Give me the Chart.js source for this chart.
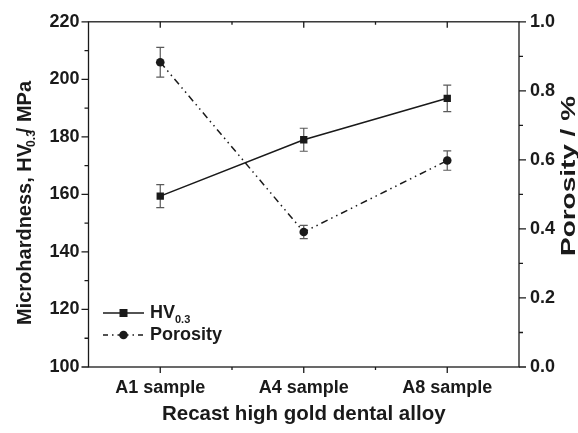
<!DOCTYPE html>
<html><head><meta charset="utf-8">
<script src="https://cdn.jsdelivr.net/npm/chart.js@4/dist/chart.umd.min.js"></script>
<style>html,body{margin:0;padding:0;background:#fff}canvas{display:block}</style>
</head><body>
<canvas id="c" width="578" height="433"></canvas>
<script>
const categories = ['A1 sample', 'A4 sample', 'A8 sample'];
const hardness = [159.4, 179.0, 193.4];
const hardnessErr = [4.0, 4.0, 4.6];
const porosity = [0.883, 0.391, 0.598];
const porosityErr = [0.043, 0.019, 0.028];
const hardnessTicks = [100, 120, 140, 160, 180, 200, 220];
const porosityTicks = [0.0, 0.2, 0.4, 0.6, 0.8, 1.0];

const FONT = "'Liberation Sans', Arial, sans-serif";
const INK = '#1a1a1a';

const errorBars = {
  id: 'errorBars',
  beforeDatasetsDraw(chart) {
    const ctx = chart.ctx;
    const x = chart.scales.x;
    const sets = [[hardness, hardnessErr, chart.scales.y], [porosity, porosityErr, chart.scales.y1]];
    ctx.save();
    ctx.strokeStyle = '#5a5a5a';
    ctx.lineWidth = 1.2;
    sets.forEach(([vals, errs, ys]) => {
      vals.forEach((v, i) => {
        const px = x.getPixelForValue(i);
        const top = ys.getPixelForValue(v + errs[i]);
        const bot = ys.getPixelForValue(v - errs[i]);
        ctx.beginPath();
        ctx.moveTo(px, top); ctx.lineTo(px, bot);
        ctx.moveTo(px - 4, top); ctx.lineTo(px + 4, top);
        ctx.moveTo(px - 4, bot); ctx.lineTo(px + 4, bot);
        ctx.stroke();
      });
    });
    ctx.restore();
  }
};

const frame = {
  id: 'frame',
  afterDraw(chart) {
    const ctx = chart.ctx;
    const a = chart.chartArea;
    const x = chart.scales.x, y = chart.scales.y, y1 = chart.scales.y1;
    ctx.save();
    ctx.strokeStyle = INK;
    ctx.lineWidth = 1.3;
    ctx.strokeRect(a.left, a.top, a.right - a.left, a.bottom - a.top);
    ctx.beginPath();
    for (let v = 100; v <= 220; v += 10) {
      const py = y.getPixelForValue(v);
      const len = (v % 20 === 0) ? 7 : 4;
      ctx.moveTo(a.left - len, py); ctx.lineTo(a.left, py);
    }
    for (let k = 0; k <= 10; k++) {
      const py = y1.getPixelForValue(k / 10);
      const len = (k % 2 === 0) ? 7 : 4;
      ctx.moveTo(a.right, py); ctx.lineTo(a.right + len, py);
    }
    for (let k = 0; k < categories.length; k++) {
      const px = x.getPixelForValue(k);
      ctx.moveTo(px, a.bottom); ctx.lineTo(px, a.bottom + 6);
      ctx.moveTo(px, a.top); ctx.lineTo(px, a.top + 6);
      if (k < categories.length - 1) {
        const mx = (px + x.getPixelForValue(k + 1)) / 2;
        ctx.moveTo(mx, a.bottom); ctx.lineTo(mx, a.bottom + 3);
        ctx.moveTo(mx, a.top); ctx.lineTo(mx, a.top + 3);
      }
    }
    ctx.stroke();

    ctx.fillStyle = INK;
    ctx.textBaseline = 'middle';
    ctx.textAlign = 'left';
    const tf = 'bold 20px ' + FONT;
    const sf = 'bold 12px ' + FONT;
    ctx.font = tf;
    const p1 = 'Microhardness, HV', p3 = '/ MPa';
    ctx.font = sf; const w2 = ctx.measureText('0.3').width;
    ctx.font = tf;
    const w1 = ctx.measureText(p1).width, w3 = ctx.measureText(p3).width;
    const total = w1 + w2 - 6 + w3;
    ctx.save();
    ctx.translate(25, 203);
    ctx.rotate(-Math.PI / 2);
    let sx = -total / 2;
    ctx.fillText(p1, sx, 0); sx += w1;
    ctx.font = sf; ctx.fillText('0.3', sx - 3, 7); sx += w2 - 6;
    ctx.font = tf; ctx.fillText(p3, sx, 0);
    ctx.restore();

    // right title, reading bottom-to-top, stretched along its length as in the reference
    ctx.save();
    ctx.translate(569, 176);
    ctx.rotate(-Math.PI / 2);
    ctx.font = 'bold 20.5px ' + FONT;
    const rt = 'Porosity / %';
    const rw = ctx.measureText(rt).width;
    ctx.scale(160 / rw, 1);
    ctx.textAlign = 'center';
    ctx.fillText(rt, 0, 0);
    ctx.restore();

    // legend
    const lx0 = 103, lx1 = 144, mx = 123.5;
    const rows = [313, 335];
    ctx.lineWidth = 1.5;
    ctx.beginPath();
    ctx.moveTo(lx0, rows[0]); ctx.lineTo(lx1, rows[0]);
    ctx.stroke();
    ctx.fillRect(mx - 4, rows[0] - 4, 8, 8);
    ctx.setLineDash([5, 4, 1.5, 4]);
    ctx.beginPath();
    ctx.moveTo(lx0, rows[1]); ctx.lineTo(mx, rows[1]);
    ctx.stroke();
    ctx.beginPath();
    ctx.moveTo(mx, rows[1]); ctx.lineTo(lx1, rows[1]);
    ctx.stroke();
    ctx.setLineDash([]);
    ctx.beginPath(); ctx.arc(mx, rows[1], 4.3, 0, Math.PI * 2); ctx.fill();
    ctx.textAlign = 'left';
    ctx.font = 'bold 18px ' + FONT;
    ctx.fillText('HV', 150, rows[0]);
    const hw = ctx.measureText('HV').width;
    ctx.font = 'bold 11px ' + FONT;
    ctx.fillText('0.3', 150 + hw, rows[0] + 7);
    ctx.font = 'bold 18px ' + FONT;
    ctx.fillText('Porosity', 150, rows[1]);
    ctx.restore();
  }
};

new Chart(document.getElementById('c'), {
  type: 'line',
  data: {
    labels: categories,
    datasets: [
      {
        label: 'HV0.3', data: hardness, yAxisID: 'y',
        borderColor: INK, backgroundColor: INK, borderWidth: 1.6,
        pointStyle: 'rect', pointRadius: 5.2, pointBorderWidth: 0, tension: 0
      },
      {
        label: 'Porosity', data: porosity, yAxisID: 'y1',
        borderColor: INK, backgroundColor: INK, borderWidth: 1.5,
        borderDash: [7, 4, 1.5, 4, 1.5, 4],
        pointStyle: 'circle', pointRadius: 4.3, pointBorderWidth: 0, tension: 0
      }
    ]
  },
  options: {
    responsive: false,
    animation: false,
    devicePixelRatio: 1,
    layout: { padding: { top: 18, left: 0, right: 0, bottom: 0 } },
    plugins: { legend: { display: false }, tooltip: { enabled: false } },
    scales: {
      x: {
        type: 'category', offset: true,
        grid: { display: false, drawTicks: false },
        border: { display: false },
        ticks: { color: INK, font: { family: FONT, size: 18, weight: 'bold' }, padding: 10, maxRotation: 0 },
        title: { display: true, text: 'Recast high gold dental alloy', color: INK,
                 font: { family: FONT, size: 20.5, weight: 'bold' }, padding: { top: 0, bottom: 6 } },
        afterFit(s) { s.height = 66; }
      },
      y: {
        position: 'left', min: 100, max: 220,
        afterBuildTicks(s) { s.ticks = hardnessTicks.map(v => ({ value: v })); },
        grid: { display: false, drawTicks: false },
        border: { display: false },
        ticks: { color: INK, font: { family: FONT, size: 18, weight: 'bold' }, padding: 9 },
        afterFit(s) { s.width = 88.5; }
      },
      y1: {
        position: 'right', min: 0, max: 1,
        afterBuildTicks(s) { s.ticks = porosityTicks.map(v => ({ value: v })); },
        grid: { display: false, drawTicks: false },
        border: { display: false },
        ticks: { color: INK, font: { family: FONT, size: 18, weight: 'bold' }, padding: 11,
                 callback: v => Number(v).toFixed(1) },
        afterFit(s) { s.width = 59; }
      }
    }
  },
  plugins: [errorBars, frame]
});
</script>
</body></html>
